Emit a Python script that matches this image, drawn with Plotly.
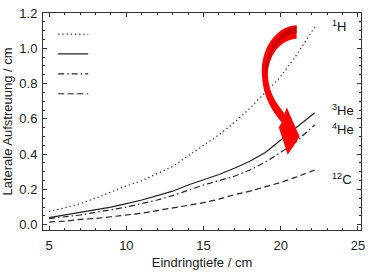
import plotly.graph_objects as go

depth = [5, 6, 7, 8, 9, 10, 11, 12, 13, 14, 15, 16, 17, 18, 19, 20, 21, 22, 22.2]
h1 = [0.075, 0.095, 0.12, 0.15, 0.185, 0.22, 0.25, 0.29, 0.33, 0.39, 0.45, 0.51, 0.58, 0.66, 0.75, 0.84, 0.96, 1.09, 1.12]
he3 = [0.04, 0.055, 0.07, 0.085, 0.10, 0.12, 0.14, 0.165, 0.19, 0.225, 0.255, 0.285, 0.32, 0.36, 0.41, 0.48, 0.55, 0.62, 0.635]
he4 = [0.035, 0.045, 0.055, 0.07, 0.085, 0.10, 0.12, 0.14, 0.165, 0.195, 0.225, 0.25, 0.275, 0.31, 0.355, 0.41, 0.47, 0.55, 0.565]
c12 = [0.015, 0.02, 0.03, 0.035, 0.045, 0.055, 0.065, 0.08, 0.095, 0.11, 0.125, 0.145, 0.17, 0.19, 0.215, 0.24, 0.27, 0.30, 0.31]

labels = ["<sup>1</sup>H", "<sup>3</sup>He", "<sup>4</sup>He", "<sup>12</sup>C"]
label_y = [1.125, 0.65, 0.545, 0.26]
series = [h1, he3, he4, c12]
dashes = ["1.2px,3px", "solid", "6px,3px,1.5px,3px", "6px,3.5px"]

W, H = 371, 274
L, R, T, B = 43, 7, 6, 40

fig = go.Figure()
for i, (ys, d) in enumerate(zip(series, dashes)):
    fig.add_trace(go.Scatter(x=depth, y=ys, mode="lines", name=" ",
                             line=dict(color="#222", width=1.2, dash=d)))
    fig.add_annotation(x=23.2, y=label_y[i], text=labels[i], showarrow=False,
                       xanchor="left", font=dict(size=13, color="#111"))

# red curved arrow (pixel coords -> paper)
def P(x, y):
    return f"{(x - L) / (W - L - R):.4f},{(H - B - y) / (H - T - B):.4f}"

path = ("M" + P(299, 19) + " C" + P(282, 19) + " " + P(262, 40) + " " + P(264, 72)
        + " C" + P(265, 95) + " " + P(275, 110) + " " + P(284, 121)
        + " L" + P(281, 126) + " L" + P(290, 155) + " L" + P(302, 136) + " L" + P(289, 105)
        + " L" + P(287, 112)
        + " C" + P(278, 100) + " " + P(271, 90) + " " + P(270, 72)
        + " C" + P(270, 50) + " " + P(283, 34) + " " + P(299, 33) + " Z")
fig.add_shape(type="path", xref="paper", yref="paper", path=path,
              fillcolor="#ff0000", line=dict(width=0))
inner = ("M" + P(299, 20) + " C" + P(285, 21) + " " + P(268, 40) + " " + P(267, 70)
         + " L" + P(269, 70) + " C" + P(270, 48) + " " + P(284, 28) + " " + P(299, 27) + " Z")
fig.add_shape(type="path", xref="paper", yref="paper", path=inner,
              fillcolor="#cc0000", line=dict(width=0))

axis_common = dict(showline=True, mirror="allticks", linecolor="#333", linewidth=1,
                   ticks="inside", ticklen=4, tickcolor="#333", showgrid=False,
                   zeroline=False, ticklabeloverflow="allow",
                   tickfont=dict(family="Liberation Sans, Arial", size=13, color="#222"))

fig.update_layout(
    width=W, height=H,
    margin=dict(l=L, r=R, t=T, b=B),
    paper_bgcolor="white", plot_bgcolor="white",
    font=dict(family="Liberation Sans, Arial", color="#222"),
    showlegend=True,
    legend=dict(x=0.032, y=0.972, xanchor="left", yanchor="top", bgcolor="rgba(0,0,0,0)",
                font=dict(size=13), tracegroupgap=0, itemwidth=30),
    xaxis=dict(range=[4.6, 25.2], tickvals=[5, 10, 15, 20, 25],
               minor=dict(dtick=1, ticks="inside", ticklen=2, tickcolor="#333"),
               title=dict(text="Eindringtiefe / cm", font=dict(size=13), standoff=6),
               ticklabelstandoff=3,
               **axis_common),
    yaxis=dict(range=[-0.03, 1.2005], tickvals=[0, 0.2, 0.4, 0.6, 0.8, 1.0, 1.2], tickformat=".1f",
               minor=dict(dtick=0.05, ticks="inside", ticklen=2, tickcolor="#333"),
               title=dict(text="Laterale Aufstreuung / cm", font=dict(size=13), standoff=4),
               ticklabelstandoff=2,
               **axis_common),
)

fig.write_html("out.html", config={"displayModeBar": False},
               post_script="document.body.style.margin='0';")
